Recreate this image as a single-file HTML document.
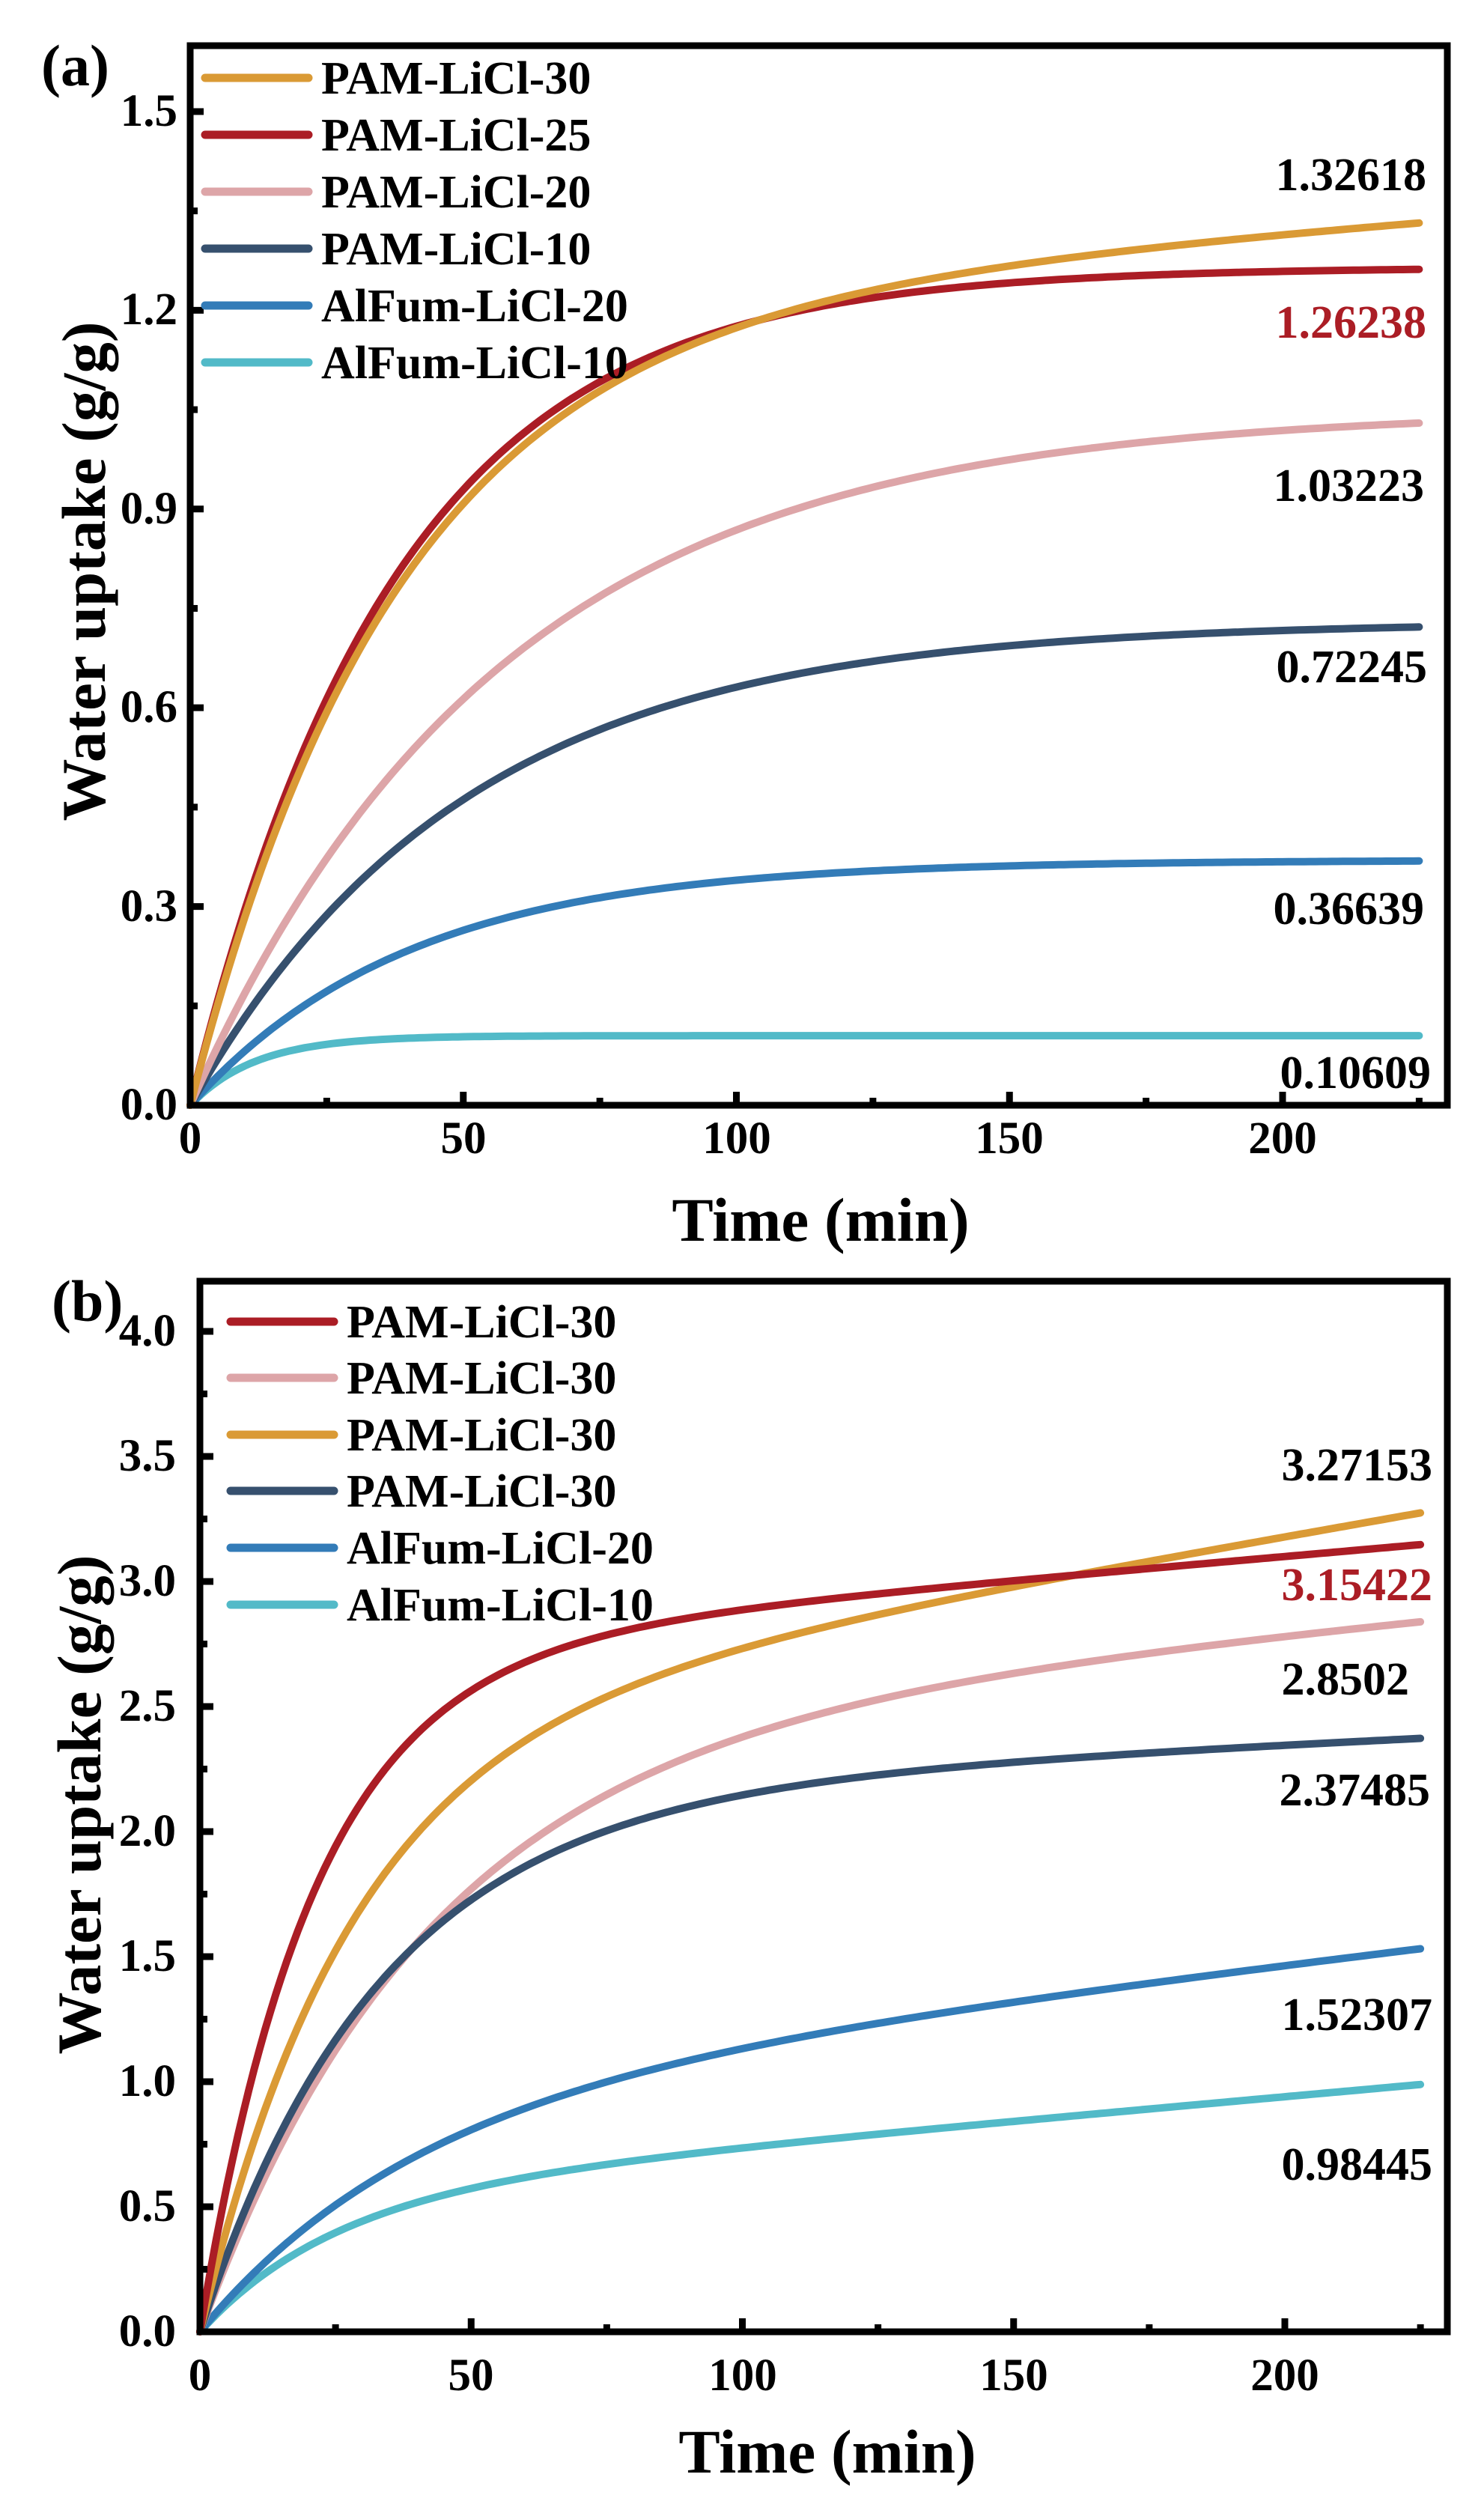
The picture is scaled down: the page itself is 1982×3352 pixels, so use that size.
<!DOCTYPE html>
<html><head><meta charset="utf-8"><style>
html,body{margin:0;padding:0;background:#fff;}
svg{display:block;}
text{font-family:"Liberation Serif",serif;font-weight:bold;fill:#000;}
</style></head><body>
<svg id="s" width="1982" height="3352" viewBox="0 0 1982 3352" xmlns="http://www.w3.org/2000/svg">
<rect width="1982" height="3352" fill="#fff"/>
<g id="curves"></g>
<g id="axes" stroke="#000" fill="none" stroke-width="9"></g>
<!-- Panel a texts -->
<text x="55" y="114" font-size="78">(a)</text>
<g font-size="61" text-anchor="end">
<text x="237" y="1495">0.0</text><text x="237" y="1230">0.3</text><text x="237" y="964">0.6</text><text x="237" y="699">0.9</text><text x="237" y="433">1.2</text><text x="237" y="168">1.5</text>
</g>
<g font-size="61" text-anchor="middle">
<text x="254" y="1540">0</text><text x="619" y="1540">50</text><text x="984" y="1540">100</text><text x="1348" y="1540">150</text><text x="1713" y="1540">200</text>
</g>
<text x="1096" y="1657" font-size="83" text-anchor="middle">Time (min)</text>
<text transform="translate(140,763) rotate(-90)" font-size="83" text-anchor="middle">Water uptake (g/g)</text>
<g font-size="62">
<text x="429" y="125">PAM-LiCl-30</text><text x="429" y="201">PAM-LiCl-25</text><text x="429" y="277">PAM-LiCl-20</text><text x="429" y="353">PAM-LiCl-10</text><text x="429" y="429">AlFum-LiCl-20</text><text x="429" y="505">AlFum-LiCl-10</text>
</g>
<g stroke-width="11" stroke-linecap="round">
<line x1="274" y1="104" x2="412" y2="104" stroke="#DA9A35"/><line x1="274" y1="180" x2="412" y2="180" stroke="#AB1D25"/><line x1="274" y1="256" x2="412" y2="256" stroke="#DDA5A8"/><line x1="274" y1="332" x2="412" y2="332" stroke="#36506E"/><line x1="274" y1="408" x2="412" y2="408" stroke="#337CB8"/><line x1="274" y1="484" x2="412" y2="484" stroke="#52BAC8"/>
</g>
<g font-size="62" text-anchor="end">
<text x="1905" y="254">1.32618</text><text x="1905" y="451" style="fill:#AB1D25">1.26238</text><text x="1902" y="669">1.03223</text><text x="1906" y="911">0.72245</text><text x="1902" y="1234">0.36639</text><text x="1911" y="1453">0.10609</text>
</g>
<!-- Panel b texts -->
<text x="69" y="1764" font-size="78">(b)</text>
<g font-size="61" text-anchor="end">
<text x="235" y="3133">0.0</text><text x="235" y="2966">0.5</text><text x="235" y="2799">1.0</text><text x="235" y="2632">1.5</text><text x="235" y="2465">2.0</text><text x="235" y="2298">2.5</text><text x="235" y="2131">3.0</text><text x="235" y="1964">3.5</text><text x="235" y="1797">4.0</text>
</g>
<g font-size="61" text-anchor="middle">
<text x="267" y="3192">0</text><text x="629" y="3192">50</text><text x="992" y="3192">100</text><text x="1354" y="3192">150</text><text x="1716" y="3192">200</text>
</g>
<text x="1105" y="3302" font-size="83" text-anchor="middle">Time (min)</text>
<text transform="translate(134,2410) rotate(-90)" font-size="83" text-anchor="middle">Water uptake (g/g)</text>
<g font-size="62">
<text x="463" y="1786">PAM-LiCl-30</text><text x="463" y="1861">PAM-LiCl-30</text><text x="463" y="1937">PAM-LiCl-30</text><text x="463" y="2012">PAM-LiCl-30</text><text x="463" y="2088">AlFum-LiCl-20</text><text x="463" y="2164">AlFum-LiCl-10</text>
</g>
<g stroke-width="11" stroke-linecap="round">
<line x1="308" y1="1765" x2="446" y2="1765" stroke="#AB1D25"/><line x1="308" y1="1840" x2="446" y2="1840" stroke="#DDA5A8"/><line x1="308" y1="1916" x2="446" y2="1916" stroke="#DA9A35"/><line x1="308" y1="1991" x2="446" y2="1991" stroke="#36506E"/><line x1="308" y1="2067" x2="446" y2="2067" stroke="#337CB8"/><line x1="308" y1="2143" x2="446" y2="2143" stroke="#52BAC8"/>
</g>
<g font-size="62" text-anchor="end">
<text x="1913" y="1977">3.27153</text><text x="1913" y="2137" style="fill:#AB1D25">3.15422</text><text x="1882" y="2263">2.8502</text><text x="1910" y="2411">2.37485</text><text x="1913" y="2711">1.52307</text><text x="1913" y="2911">0.98445</text>
</g>
</svg>
<script>
(function(){
var NS="http://www.w3.org/2000/svg";
var cg=document.getElementById('curves'), ag=document.getElementById('axes');
function el(p,n,a){var e=document.createElementNS(NS,n);for(var k in a)e.setAttribute(k,a[k]);p.appendChild(e);return e;}
function f(A,tau,s){return function(t){return A*(1-Math.exp(-t/tau))+s*t;};}
function curve(X,Y,fn,col){var d="";for(var t=0;t<=225;t+=1){d+=(t?"L":"M")+X(t).toFixed(1)+" "+Y(fn(t)).toFixed(1);}
 el(cg,'path',{d:d,stroke:col,'stroke-width':10,fill:'none','stroke-linecap':'round','stroke-linejoin':'round'});}
var Xa=function(t){return 254+7.295*t;}, Ya=function(v){return 1476-884.7*v;};
curve(Xa,Ya,f(0.105,12,0),'#52BAC8');
curve(Xa,Ya,f(0.37,40,0),'#337CB8');
curve(Xa,Ya,f(0.73,50,0),'#36506E');
curve(Xa,Ya,f(1.05,57,0),'#DDA5A8');
curve(Xa,Ya,f(1.265,37.7,0),'#AB1D25');
curve(Xa,Ya,f(1.2,38,0.0006),'#DA9A35');
var Xb=function(t){return 267+7.245*t;}, Yb=function(v){return 3114-334*v;};
curve(Xb,Yb,f(0.55,25,0.00195),'#52BAC8');
curve(Xb,Yb,f(0.95,40,0.0026),'#337CB8');
curve(Xb,Yb,f(2.4,42,0.002),'#DDA5A8');
curve(Xb,Yb,f(2.15,33,0.001),'#36506E');
curve(Xb,Yb,f(2.42,28,0.0038),'#DA9A35');
curve(Xb,Yb,f(2.72,21,0.0019),'#AB1D25');
function axes(L,T,R,B,X,Y,ymaj,ymax){
 el(ag,'rect',{x:L,y:T,width:R-L,height:B-T});
 for(var t=0;t<=225;t+=25){var x=X(t),len=(t%50==0)?18:10;el(ag,'line',{x1:x,y1:B,x2:x,y2:B-len});}
 for(var v=0;v<=ymax+1e-6;v+=ymaj/2){var y=Y(v),maj=Math.abs(Math.round(v/ymaj)*ymaj-v)<1e-6;el(ag,'line',{x1:L,y1:y,x2:L+(maj?18:10),y2:y});}
}
axes(254,61,1933,1476,Xa,Ya,0.3,1.6);
axes(267,1711,1933,3114,Xb,Yb,0.5,4.2);
})();
</script>
</body></html>
